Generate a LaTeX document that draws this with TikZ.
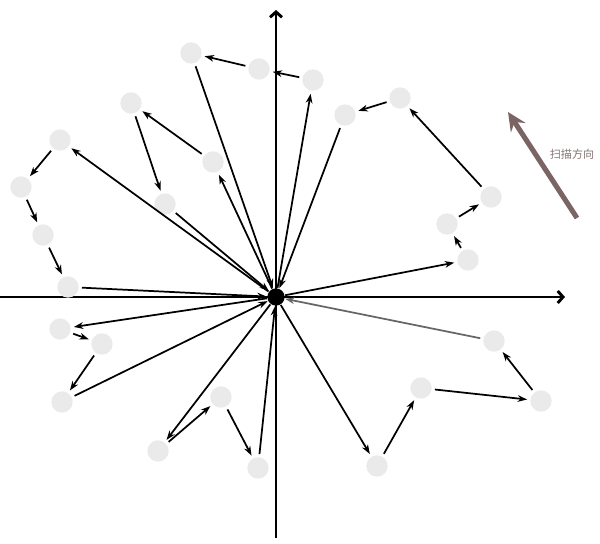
\documentclass[tikz,border=0pt]{standalone}
\usepackage{fontspec}
\newfontfamily\cjk{Noto Sans CJK SC}
\usetikzlibrary{arrows.meta}

\definecolor{grispunto}{HTML}{EBEAEA}
\definecolor{barrido}{HTML}{7A6464}
\definecolor{textobarrido}{HTML}{857373}

\tikzset{
  punto/.style={circle, fill=grispunto, minimum size=16pt, inner sep=0pt, outer sep=2.5pt},
  origen/.style={circle, fill=black, minimum size=13pt, inner sep=0pt, outer sep=0.5pt},
  flecha/.style={line width=1.3pt, -{Stealth[length=7pt,width=5pt,inset=2.2pt]}},
  eje/.style={line width=2.2pt, -{Straight Barb[length=4pt,width=9pt]}}
}

\begin{document}
\begin{tikzpicture}[x=0.75pt, y=-0.75pt]
      \useasboundingbox (0,0) rectangle (600,543);

      % Ejes
      \coordinate (xi) at (0,297);
      \coordinate (xd) at (565,297);
      \coordinate (ya) at (276,10);
      \coordinate (yb) at (276,538);
      \draw[eje] (xi) -- (xd);
      \draw[eje] (yb) -- (ya);

      % Origen
      \node[origen] (o) at (276,297) {};

      % Puntos
      \node[punto] (p1) at (468,260) {};
      \node[punto] (p2) at (447,224) {};
      \node[punto] (p3) at (491,197) {};
      \node[punto] (p4) at (400,98) {};
      \node[punto] (p5) at (345,115) {};
      \node[punto] (p6) at (313,80) {};
      \node[punto] (p7) at (259,69) {};
      \node[punto] (p8) at (191,53) {};
      \node[punto] (p9) at (213,162) {};
      \node[punto] (p10) at (131,103) {};
      \node[punto] (p11) at (165,204) {};
      \node[punto] (p12) at (60,140) {};
      \node[punto] (p13) at (21,187) {};
      \node[punto] (p14) at (43,235) {};
      \node[punto] (p15) at (68,287) {};
      \node[punto] (p16) at (60,329) {};
      \node[punto] (p17) at (102,344) {};
      \node[punto] (p18) at (62,402) {};
      \node[punto] (p19) at (221,397) {};
      \node[punto] (p20) at (158,451) {};
      \node[punto] (p21) at (258,468) {};
      \node[punto] (p22) at (377,466) {};
      \node[punto] (p23) at (421,388) {};
      \node[punto] (p24) at (541,401) {};
      \node[punto] (p25) at (494,341) {};

      % Recorridos
      \foreach \a/\b in {o/p1, p1/p2, p2/p3, p3/p4, p4/p5, p5/o,
                         o/p6, p6/p7, p7/p8, p8/o,
                         o/p9, p9/p10, p10/p11, p11/o,
                         o/p12, p12/p13, p13/p14, p14/p15, p15/o,
                         o/p16, p16/p17, p17/p18, p18/o,
                         o/p20, p20/p19, p19/p21, p21/o,
                         o/p22, p22/p23, p23/p24, p24/p25} {
          \draw[flecha] (\a) -- (\b);
      }
      \draw[flecha, black!60] (p25) -- (o);

      % Direccion de barrido
      \coordinate (b0) at (577,218);
      \coordinate (b1) at (508,112);
      \draw[barrido, line width=3.8pt, -{Stealth[length=14pt,width=13pt,inset=5pt]}] (b0) -- (b1);
      \node[text=textobarrido, font=\cjk\fontsize{8.3}{9}\selectfont] (rotulo) at (572,154) {扫描方向};
\end{tikzpicture}
\end{document}
